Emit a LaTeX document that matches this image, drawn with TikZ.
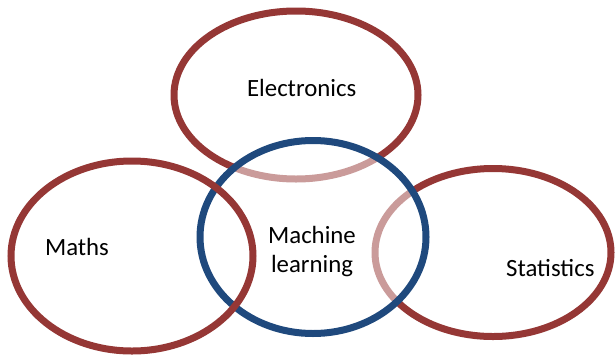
\documentclass[tikz,border=0pt]{standalone}
\usepackage{fontspec}
\setmainfont{Carlito}
\usetikzlibrary{shapes.geometric}
\definecolor{ringred}{HTML}{953735}
\definecolor{ringblue}{HTML}{1F497D}
\begin{document}
\begin{tikzpicture}[x=1pt,y=-1pt,
  ring/.style={ellipse, draw=ringred, line width=7pt, inner sep=0pt},
  txt/.style={font=\fontsize{24.8pt}{29pt}\selectfont, align=center, inner sep=0pt, anchor=base}]
\useasboundingbox (0,0) rectangle (615,354);
\node[ring, minimum width=244pt, minimum height=168pt] (elec) at (296,95) {};
\node[ring, minimum width=236pt, minimum height=168pt] (stat) at (493,252.5) {};
\node[ring, draw=ringblue, fill=white, fill opacity=0.5, minimum width=226pt, minimum height=193pt] (ml) at (313,237) {};
\node[ring, minimum width=242pt, minimum height=190pt] (maths) at (132,256) {};
\node[txt] (telec) at (301.7,96) {Electronics};
\node[txt] (tmaths) at (77,255) {Maths};
\node[txt] (tstat) at (550.3,276) {Statistics};
\node[txt] (tml) at (312,272.3) {Machine\\learning};
\end{tikzpicture}
\end{document}
